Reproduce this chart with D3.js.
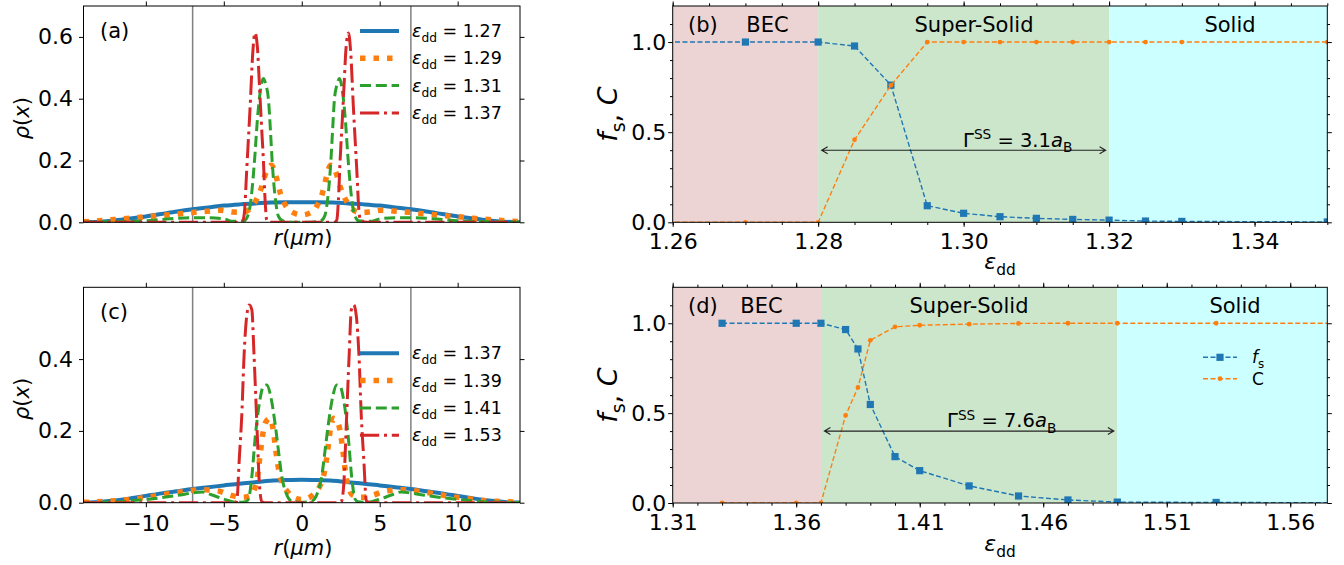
<!DOCTYPE html>
<html>
<head>
<meta charset="utf-8">
<script src="https://cdn.jsdelivr.net/npm/d3@7"></script>
<style>
  body { margin: 0; background: #fff; }
  text { white-space: pre; }
</style>
</head>
<body>
<svg id="fig" width="1344" height="565"></svg>
<script>
// ---- density profiles rho(x) (a) and (c): [r, rho] ----
const rhoA_127 = [[-14,0.0005],[-13,0.002],[-12,0.006],[-11,0.012],[-10,0.019],[-9,0.027],[-8,0.035],[-7,0.042],[-6,0.048],[-5,0.054],[-4,0.058],[-3,0.061],[-2,0.064],[-1,0.065],[0,0.065],[1,0.065],[2,0.064],[3,0.061],[4,0.058],[5,0.054],[6,0.048],[7,0.042],[8,0.035],[9,0.027],[10,0.019],[11,0.012],[12,0.006],[13,0.002],[14,0.0005]]
const rhoA_129 = [[-14,0.002],[-13,0.005],[-12,0.009],[-11,0.013],[-10,0.018],[-9,0.022],[-8,0.027],[-7,0.032],[-6,0.036],[-5.2,0.039],[-4.4,0.033],[-3.8,0.032],[-3.3,0.045],[-3.0,0.065],[-2.6,0.11],[-2.3,0.16],[-1.95,0.185],[-1.6,0.14],[-1.35,0.09],[-1.1,0.06],[-0.7,0.035],[0,0.024],[0.7,0.035],[1.05,0.06],[1.3,0.09],[1.55,0.14],[1.85,0.185],[2.2,0.16],[2.5,0.11],[2.9,0.065],[3.2,0.045],[3.7,0.032],[4.3,0.033],[5.1,0.039],[6,0.036],[7,0.032],[8,0.027],[9,0.022],[10,0.018],[11,0.013],[12,0.009],[13,0.005],[14,0.002]]
const rhoA_131 = [[-14,0.0005],[-12,0.002],[-10,0.005],[-9,0.009],[-8,0.013],[-7,0.015],[-6,0.015],[-5,0.011],[-4.4,0.003],[-3.7,0.005],[-3.4,0.03],[-3.2,0.1],[-3.0,0.22],[-2.85,0.33],[-2.67,0.42],[-2.46,0.465],[-2.3,0.445],[-2.14,0.4],[-2.0,0.29],[-1.9,0.2],[-1.8,0.13],[-1.68,0.07],[-1.5,0.02],[-1.2,0.004],[-0.6,0.0005],[0,0.0003],[0.6,0.0005],[1.2,0.004],[1.47,0.02],[1.65,0.07],[1.77,0.13],[1.87,0.2],[1.97,0.29],[2.1,0.4],[2.26,0.445],[2.42,0.465],[2.62,0.42],[2.8,0.33],[2.95,0.22],[3.15,0.1],[3.35,0.03],[3.65,0.005],[4.4,0.003],[5,0.011],[6,0.015],[7,0.015],[8,0.013],[9,0.009],[10,0.005],[12,0.002],[14,0.0005]]
const rhoA_137 = [[-14,0],[-4.2,0],[-3.8,0.003],[-3.68,0.03],[-3.53,0.17],[-3.31,0.375],[-3.14,0.55],[-3.0,0.613],[-2.85,0.57],[-2.71,0.44],[-2.6,0.33],[-2.46,0.2],[-2.35,0.07],[-2.25,0.008],[-2.1,0],[2.1,0],[2.25,0.008],[2.35,0.07],[2.46,0.2],[2.6,0.33],[2.71,0.44],[2.85,0.57],[3.0,0.613],[3.14,0.55],[3.31,0.375],[3.53,0.17],[3.68,0.03],[3.8,0.003],[4.2,0],[14,0]]

const rhoC_137 = [[-14,0.0005],[-13,0.002],[-12,0.006],[-11,0.012],[-10,0.019],[-9,0.026],[-8,0.032],[-7,0.038],[-6,0.043],[-5,0.048],[-4,0.053],[-3,0.057],[-2,0.061],[-1,0.063],[0,0.064],[1,0.063],[2,0.061],[3,0.057],[4,0.053],[5,0.048],[6,0.043],[7,0.038],[8,0.032],[9,0.026],[10,0.019],[11,0.012],[12,0.006],[13,0.002],[14,0.0005]]
const rhoC_139 = [[-14,0.001],[-12.5,0.004],[-11.5,0.007],[-10.5,0.012],[-9.5,0.018],[-8.5,0.025],[-7.5,0.032],[-6.5,0.036],[-5.4,0.033],[-4.5,0.02],[-3.8,0.015],[-3.3,0.02],[-3.05,0.035],[-2.85,0.07],[-2.67,0.133],[-2.5,0.19],[-2.3,0.225],[-2.05,0.235],[-1.82,0.2],[-1.65,0.14],[-1.45,0.085],[-1.2,0.05],[-0.9,0.03],[-0.5,0.015],[0,0.009],[0.5,0.015],[0.9,0.03],[1.2,0.05],[1.45,0.085],[1.65,0.14],[1.82,0.2],[2.05,0.235],[2.3,0.225],[2.5,0.19],[2.67,0.133],[2.85,0.07],[3.05,0.035],[3.3,0.02],[3.8,0.015],[4.5,0.02],[5.4,0.033],[6.5,0.036],[7.5,0.032],[8.5,0.025],[9.5,0.018],[10.5,0.012],[11.5,0.007],[12.5,0.004],[14,0.001]]
const rhoC_141 = [[-14,0.0005],[-12,0.002],[-11,0.005],[-10,0.009],[-9,0.014],[-8,0.02],[-7,0.027],[-6.4,0.03],[-5.8,0.022],[-5,0.01],[-4.2,0.001],[-3.6,0.003],[-3.42,0.01],[-3.2,0.073],[-3.0,0.175],[-2.72,0.277],[-2.46,0.324],[-2.24,0.328],[-1.99,0.296],[-1.71,0.22],[-1.5,0.147],[-1.28,0.073],[-1.0,0.026],[-0.64,0.004],[0,0.001],[0.64,0.004],[1.0,0.026],[1.28,0.073],[1.5,0.147],[1.71,0.22],[1.99,0.296],[2.24,0.328],[2.46,0.324],[2.72,0.277],[3.0,0.175],[3.2,0.073],[3.42,0.01],[3.6,0.003],[4.2,0.001],[5,0.01],[5.8,0.022],[6.4,0.03],[7,0.027],[8,0.02],[9,0.014],[10,0.009],[11,0.005],[12,0.002],[14,0.0005]]
const rhoC_153 = [[-14,0],[-4.4,0],[-4.17,0.004],[-4.0,0.128],[-3.85,0.24],[-3.7,0.41],[-3.53,0.52],[-3.36,0.551],[-3.2,0.537],[-3.06,0.41],[-2.88,0.22],[-2.72,0.054],[-2.56,0.003],[-2.4,0],[2.4,0],[2.54,0.003],[2.7,0.054],[2.86,0.22],[3.04,0.41],[3.18,0.537],[3.33,0.551],[3.5,0.52],[3.67,0.41],[3.82,0.24],[3.97,0.128],[4.15,0.004],[4.4,0],[14,0]]

const epsA = ['1.27', '1.29', '1.31', '1.37']
const epsC = ['1.37', '1.39', '1.41', '1.53']
const wallR = [-7, 7]

// ---- superfluid fraction f_s and contrast C ----
const epsB = [1.25, 1.27, 1.28, 1.285, 1.29, 1.295, 1.30, 1.305, 1.31, 1.315, 1.32, 1.325, 1.33, 1.35]
const fsB  = [1.0, 1.0, 1.0, 0.978, 0.761, 0.092, 0.05, 0.031, 0.022, 0.016, 0.012, 0.007, 0.005, 0.002]
const cB   = [0, 0, 0, 0.458, 0.76, 1, 1, 1, 1, 1, 1, 1, 1, 1]
const phaseB = [1.26, 1.28, 1.32, 1.35]   // BEC | Super-Solid | Solid boundaries
const gammaB = '3.1'

const epsD = [1.33, 1.36, 1.37, 1.38, 1.385, 1.39, 1.40, 1.41, 1.43, 1.45, 1.47, 1.49, 1.53, 1.59]
const fsD  = [1.0, 1.0, 1.0, 0.965, 0.857, 0.548, 0.258, 0.18, 0.095, 0.039, 0.017, 0.005, 0.003, 0.001]
const cD   = [0, 0, 0, 0.487, 0.643, 0.905, 0.98, 0.989, 0.995, 0.999, 1.0, 1.0, 1.0, 1.0]
const phaseD = [1.31, 1.37, 1.49, 1.575]
const gammaD = '7.6'

const phaseNames = ['BEC', 'Super-Solid', 'Solid']
const ticksRho = [-10, -5, 0, 5, 10]
const ticksB = [1.26, 1.28, 1.30, 1.32, 1.34]
const ticksD = [1.31, 1.36, 1.41, 1.46, 1.51, 1.56]
const ticksF = [0, 0.5, 1.0]

const blue = '#1f77b4', orange = '#ff7f0e', green = '#2ca02c', red = '#d62728'
const densColors = [blue, orange, green, red]
const densWidth = [4, 5.5, 3, 3]
const densDash = [null, '5.5,8', '11,4.8', '19.2,4.8,3,4.8']
const phaseFill = ['#edd4d4', '#cce6cc', '#ccffff']
const TICK_FONT = 22

const svg = d3.select('#fig').attr('font-family', '"DejaVu Sans", sans-serif')

// text with sub/superscripts: parts = [[text, style]], style in '', 'i', 'sub', 'sup', 'isub', 'low'
function rich(sel, parts, size) {
  let cur = 0
  parts.forEach(([t, s = '']) => {
    let fsz = size, off = 0
    if (s.includes('sub')) { fsz = size * 0.7; off = size * 0.28 }
    if (s.includes('sup')) { fsz = size * 0.7; off = -size * 0.4 }
    if (s.includes('low')) { off = size * 0.1 }
    sel.append('tspan').text(t).attr('font-size', fsz).attr('dy', off - cur)
      .attr('font-style', s.includes('i') ? 'italic' : null)
    cur = off
  })
  return sel
}

function makeAxes(name, box, xd, yd) {
  const x = d3.scaleLinear().domain(xd).range([box.l, box.r])
  const y = d3.scaleLinear().domain(yd).range([box.b, box.t])
  svg.append('clipPath').attr('id', 'clip-' + name).append('rect')
    .attr('x', box.l).attr('y', box.t).attr('width', box.r - box.l).attr('height', box.b - box.t)
  const g = svg.append('g')
  const plot = g.append('g').attr('clip-path', `url(#clip-${name})`)
  return { x, y, g, plot, box }
}

function frame(ax, o) {
  const { x, y, g, box } = ax
  const tidy = s => {
    s.select('.domain').remove()
    s.attr('font-size', TICK_FONT).attr('font-family', null)
    s.selectAll('line').attr('stroke', '#000')
    s.selectAll('text').attr('fill', '#000')
  }
  const add = (axis, tr) => g.append('g').attr('transform', tr).call(axis).call(tidy)
  const M = 4.5, m = 2.7
  if (o.bottom) add(d3.axisBottom(x).tickValues(o.xt).tickSize(M).tickPadding(o.xpad)
    .tickFormat(o.xf || ''), `translate(0,${box.b})`)
  add(d3.axisTop(x).tickValues(o.xt).tickSize(M).tickFormat(''), `translate(0,${box.t})`)
  add(d3.axisLeft(y).tickValues(o.yt).tickSize(M).tickPadding(o.ypad).tickFormat(d3.format('.1f')), `translate(${box.l},0)`)
  add(d3.axisRight(y).tickValues(o.yt).tickSize(M).tickFormat(''), `translate(${box.r},0)`)
  if (o.xm) {
    add(d3.axisBottom(x).tickValues(o.xm).tickSize(m).tickFormat(''), `translate(0,${box.b})`)
    add(d3.axisTop(x).tickValues(o.xm).tickSize(m).tickFormat(''), `translate(0,${box.t})`)
  }
  if (o.ym) {
    add(d3.axisLeft(y).tickValues(o.ym).tickSize(m).tickFormat(''), `translate(${box.l},0)`)
    add(d3.axisRight(y).tickValues(o.ym).tickSize(m).tickFormat(''), `translate(${box.r},0)`)
  }
  g.append('rect').attr('x', box.l).attr('y', box.t)
    .attr('width', box.r - box.l).attr('height', box.b - box.t)
    .attr('fill', 'none').attr('stroke', '#000').attr('stroke-width', 1)
}

// ---------------- density panels (a), (c) ----------------
function densityPanel(name, box, ymax, curves, eps, o) {
  const ax = makeAxes(name, box, [-14, 14], [0, ymax])
  const { x, y, plot, g } = ax
  plot.selectAll('line.wall').data(wallR).join('line').attr('class', 'wall')
    .attr('x1', d => x(d)).attr('x2', d => x(d)).attr('y1', box.t).attr('y2', box.b)
    .attr('stroke', '#808080').attr('stroke-width', 1.5)
  const line = d3.line().x(d => x(d[0])).y(d => y(d[1])).curve(d3.curveMonotoneX)
  curves.forEach((c, i) => {
    plot.append('path').attr('d', line(c)).attr('fill', 'none')
      .attr('stroke', densColors[i]).attr('stroke-width', densWidth[i])
      .attr('stroke-dasharray', densDash[i])
  })
  frame(ax, { bottom: o.bottom, xt: ticksRho, xf: d3.format('d'), xpad: 8, yt: o.yt, ypad: 6 })

  // legend (no frame)
  eps.forEach((e, i) => {
    const ly = box.t + 25 + o.legDy + i * 27.3
    g.append('line').attr('x1', 360).attr('x2', 399).attr('y1', ly).attr('y2', ly)
      .attr('stroke', densColors[i]).attr('stroke-width', densWidth[i])
      .attr('stroke-dasharray', densDash[i])
    rich(g.append('text').attr('x', 412).attr('y', ly + 6),
      [['ε', 'i'], ['dd', 'sub'], [' = ' + e]], 17.5)
  })
  g.append('text').attr('x', 100).attr('y', box.t + 31.5).attr('font-size', 21).text(o.tag)
  rich(g.append('text').attr('transform', `translate(29,${(box.t + box.b) / 2 + 4}) rotate(-90)`)
    .attr('text-anchor', 'middle'), [['ρ', 'i'], ['('], ['x', 'i'], [')']], 21)
  rich(g.append('text').attr('x', 303).attr('y', box.b + o.rlab).attr('text-anchor', 'middle'),
    [['r', 'i'], ['('], ['μm', 'i'], [')']], 21)
}

densityPanel('a', { l: 83.5, r: 520, t: 6, b: 222.3 }, 0.7,
  [rhoA_127, rhoA_129, rhoA_131, rhoA_137], epsA,
  { bottom: false, yt: [0, 0.2, 0.4, 0.6], legDy: 0, tag: '(a)', rlab: 23 })
densityPanel('c', { l: 83.5, r: 520, t: 287.3, b: 502.7 }, 0.6,
  [rhoC_137, rhoC_139, rhoC_141, rhoC_153], epsC,
  { bottom: true, yt: [0, 0.2, 0.4], legDy: 41, tag: '(c)', rlab: 52 })

// ---------------- phase panels (b), (d) ----------------
function phasePanel(name, box, xd, xs, fs, cs, bounds, gamma, o) {
  const ax = makeAxes(name, box, xd, [0, 1.2])
  const { x, y, plot, g } = ax
  const regions = d3.pairs(bounds)
  plot.selectAll('rect.phase').data(regions).join('rect').attr('class', 'phase')
    .attr('x', d => x(d[0])).attr('width', d => x(d[1]) - x(d[0]))
    .attr('y', box.t).attr('height', box.b - box.t)
    .attr('fill', (d, i) => phaseFill[i])

  const pts = v => xs.map((e, i) => [e, v[i]])
  const line = d3.line().x(d => x(d[0])).y(d => y(d[1]))
  plot.append('path').attr('d', line(pts(fs))).attr('fill', 'none')
    .attr('stroke', blue).attr('stroke-width', 1.4).attr('stroke-dasharray', '5,2.5')
  plot.selectAll('rect.fs').data(pts(fs)).join('rect').attr('class', 'fs')
    .attr('x', d => x(d[0]) - 3.6).attr('y', d => y(d[1]) - 3.6)
    .attr('width', 7.2).attr('height', 7.2).attr('fill', blue)
  plot.append('path').attr('d', line(pts(cs))).attr('fill', 'none')
    .attr('stroke', orange).attr('stroke-width', 1.4).attr('stroke-dasharray', '5,2.5')
  plot.selectAll('circle.c').data(pts(cs)).join('circle').attr('class', 'c')
    .attr('cx', d => x(d[0])).attr('cy', d => y(d[1])).attr('r', 2.4).attr('fill', orange)

  // double arrow across the super-solid window
  const ay = y(0.4), a0 = x(bounds[1]) + 3.5, a1 = x(bounds[2]) - 3.5
  const p = d3.path()
  p.moveTo(a0, ay); p.lineTo(a1, ay)
  p.moveTo(a0 + 6, ay - 3.5); p.lineTo(a0, ay); p.lineTo(a0 + 6, ay + 3.5)
  p.moveTo(a1 - 6, ay - 3.5); p.lineTo(a1, ay); p.lineTo(a1 - 6, ay + 3.5)
  g.append('path').attr('d', p.toString()).attr('fill', 'none').attr('stroke', '#222').attr('stroke-width', 1.1)
  rich(g.append('text').attr('x', o.gx).attr('y', ay - 3.7),
    [['Γ'], ['SS', 'sup'], [' = ' + gamma], ['a', 'i'], ['B', 'sub']], 19.5)

  frame(ax, { bottom: true, xt: o.xt, xf: d3.format('.2f'), xpad: 7, xm: o.xm,
    yt: ticksF, ypad: 2, ym: [0.1, 0.2, 0.3, 0.4, 0.6, 0.7, 0.8, 0.9, 1.1] })

  g.append('text').attr('x', 688).attr('y', box.t + 26).attr('font-size', 21).text(o.tag)
  phaseNames.forEach((n, i) => g.append('text').attr('x', o.nx[i]).attr('y', box.t + 26)
    .attr('text-anchor', 'middle').attr('font-size', 21).text(n))

  rich(g.append('text').attr('transform', `translate(617,${(box.t + box.b) / 2}) rotate(-90)`)
    .attr('text-anchor', 'middle'), [['f', 'i'], ['s', 'sub'], [',', 'low'], [' C', 'i']], 27)
  rich(g.append('text').attr('x', 1000).attr('y', box.b + o.elab).attr('text-anchor', 'middle'),
    [['ε', 'i'], ['dd', 'sub']], 22)

  if (o.legend) {
    const lx = 1203, rx = 1237
    ;[[blue, 'fs'], [orange, 'C']].forEach(([col, k], i) => {
      const ly = box.t + 70 + i * 21.4
      g.append('line').attr('x1', lx).attr('x2', rx).attr('y1', ly).attr('y2', ly)
        .attr('stroke', col).attr('stroke-width', 1.4).attr('stroke-dasharray', '5,2.5')
      if (k === 'fs') g.append('rect').attr('x', (lx + rx) / 2 - 3.6).attr('y', ly - 3.6)
        .attr('width', 7.2).attr('height', 7.2).attr('fill', col)
      else g.append('circle').attr('cx', (lx + rx) / 2).attr('cy', ly).attr('r', 2.4).attr('fill', col)
      const t = g.append('text').attr('x', 1252).attr('y', ly + 6)
      if (k === 'fs') rich(t, [['f', 'i'], ['s', 'sub']], 17)
      else rich(t, [['C']], 17)
    })
  }
}

phasePanel('b', { l: 672.7, r: 1327.3, t: 6, b: 222.3 }, [1.26, 1.35],
  epsB, fsB, cB, phaseB, gammaB,
  { xt: ticksB, xm: d3.range(1.26, 1.3501, 0.005), nx: [767.5, 974, 1230], gx: 963,
    tag: '(b)', elab: 47, legend: false })
phasePanel('d', { l: 672.7, r: 1327.3, t: 287.3, b: 503 }, [1.31, 1.575],
  epsD, fsD, cD, phaseD, gammaD,
  { xt: ticksD, xm: d3.range(1.31, 1.5751, 0.01), nx: [761.5, 969, 1235], gx: 947,
    tag: '(d)', elab: 48, legend: true })
</script>
</body>
</html>
